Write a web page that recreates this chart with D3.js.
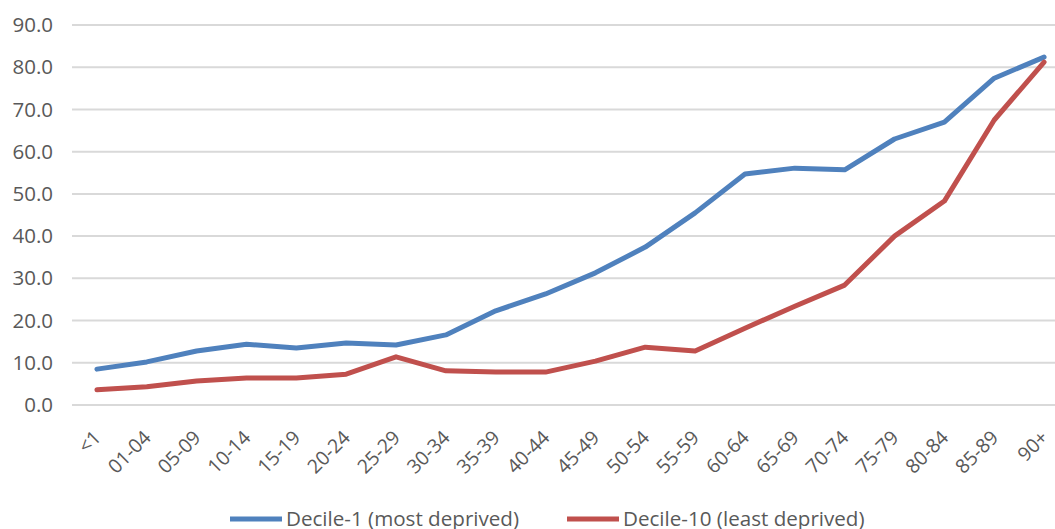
<!DOCTYPE html>
<html><head><meta charset="utf-8">
<script src="https://cdn.jsdelivr.net/npm/d3@7"></script>
<style>
html,body{margin:0;padding:0;background:#fff;}
svg{display:block;font-family:"Open Sans",sans-serif;}
</style></head>
<body>
<svg id="chart" width="1055" height="529"></svg>
<script>
const categories = ["<1","01-04","05-09","10-14","15-19","20-24","25-29","30-34","35-39","40-44","45-49","50-54","55-59","60-64","65-69","70-74","75-79","80-84","85-89","90+"];
const decile1 = [8.5,10.2,12.8,14.4,13.5,14.7,14.2,16.6,22.3,26.3,31.3,37.4,45.5,54.7,56.1,55.7,63.0,67.0,77.4,82.4];
const decile10 = [3.6,4.3,5.7,6.4,6.4,7.3,11.4,8.1,7.8,7.8,10.4,13.7,12.8,18.2,23.4,28.4,40.0,48.3,67.5,81.2];
const yTicks = [0,10,20,30,40,50,60,70,80,90];
const seriesNames = ["Decile-1 (most deprived)","Decile-10 (least deprived)"];
const seriesColors = ["#4F81BD","#C0504D"];

const svg = d3.select("#chart");
const plotLeft = 72, plotRight = 1069, plotTop = 25, plotBottom = 405;

const x = d3.scalePoint().domain(categories).range([plotLeft, plotRight]).padding(0.5);
const y = d3.scaleLinear().domain([0,90]).range([plotBottom, plotTop]);

// gridlines
svg.append("g").selectAll("line").data(yTicks).join("line")
  .attr("x1", plotLeft).attr("x2", plotRight)
  .attr("y1", d => y(d)).attr("y2", d => y(d))
  .attr("stroke", "#d9d9d9").attr("stroke-width", 2);

// y axis labels
const yAxis = d3.axisLeft(y).tickValues(yTicks).tickFormat(d3.format(".1f")).tickSize(0).tickPadding(0);
const gy = svg.append("g").attr("transform", `translate(53,0)`).call(yAxis);
gy.select(".domain").remove();
gy.selectAll("text").attr("font-size", 20.5).attr("fill", "#595959").attr("font-family", "Open Sans");

// x axis labels
const xAxis = d3.axisBottom(x).tickSize(0).tickPadding(0);
const gx = svg.append("g").attr("transform", `translate(0,${plotBottom})`).call(xAxis);
gx.select(".domain").remove();
gx.selectAll("text")
  .attr("font-size", 19.5).attr("fill", "#595959").attr("font-family", "Open Sans")
  .attr("text-anchor", "end")
  .attr("dy", "0.35em")
  .attr("transform", "translate(0,29) rotate(-45)");

// lines
const line = d3.line().x((d,i) => x(categories[i])).y(d => y(d));
[decile1, decile10].forEach((s, k) => {
  svg.append("path").datum(s)
    .attr("d", line)
    .attr("fill", "none")
    .attr("stroke", seriesColors[k])
    .attr("stroke-width", 5)
    .attr("stroke-linejoin", "round")
    .attr("stroke-linecap", "round");
});

// legend
const legendItems = [{x:230},{x:567}];
legendItems.forEach((it, k) => {
  const g = svg.append("g").attr("transform", `translate(${it.x},519)`);
  g.append("line").attr("x1", 0).attr("x2", 52).attr("y1", 0).attr("y2", 0)
    .attr("stroke", seriesColors[k]).attr("stroke-width", 5);
  g.append("text").attr("x", 56).attr("y", 0).attr("dy", "0.35em")
    .attr("font-size", 20.6).attr("fill", "#595959").attr("font-family", "Open Sans")
    .text(seriesNames[k]);
});
</script>
</body></html>
